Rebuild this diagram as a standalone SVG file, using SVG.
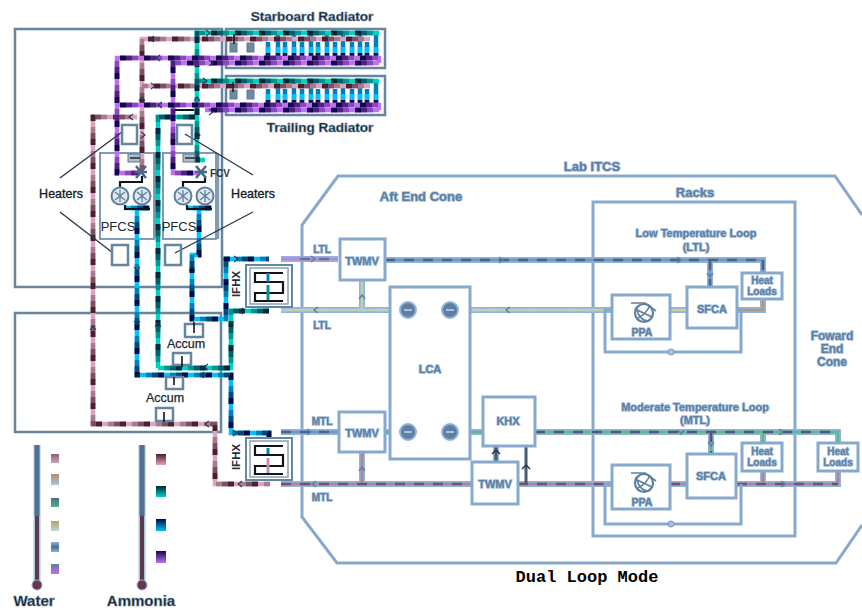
<svg xmlns="http://www.w3.org/2000/svg" width="862" height="611" viewBox="0 0 862 611">
<style>
text{font-family:"Liberation Sans",Arial,sans-serif;text-anchor:middle}
.dk{fill:#101820;font-weight:700;stroke:#6f8ca8;stroke-width:.6px}
.bl{fill:#5f7fa0;font-weight:700;stroke:#a4c2e2;stroke-width:1.4px;paint-order:stroke}
.fr{fill:none;stroke:#66859f;stroke-width:2.5}
.wf{fill:#fff;stroke:#86a9cc;stroke-width:3}
.wl{fill:none;stroke:#86a9cc;stroke-width:3}
.pipe{fill:none;stroke-width:4.5}
.d2{stroke-dasharray:18 6;stroke-dashoffset:-6}
.d3{stroke-dasharray:12 12;stroke-dashoffset:-12}
.d4{stroke-dasharray:6 18;stroke-dashoffset:-18}
.pk .d1{stroke:#dda3c2}.pk .d2{stroke:#a87a90}.pk .d3{stroke:#7a5062}.pk .d4{stroke:#4a2030}
.te .d1{stroke:#00d2c2}.te .d2{stroke:#009492}.te .d3{stroke:#005f68}.te .d4{stroke:#002838}
.cy .d1{stroke:#00c0ff}.cy .d2{stroke:#0080b8}.cy .d3{stroke:#004a7c}.cy .d4{stroke:#000c40}
.pu .d1{stroke:#c070f0}.pu .d2{stroke:#8848c0}.pu .d3{stroke:#502080}.pu .d4{stroke:#120850}
.hal{fill:none;stroke:#8fb4dc;stroke-width:6}
.wp{fill:none;stroke-width:2.6;stroke-dasharray:10 9}
.ar{fill:none;stroke:#24384c;stroke-width:1.1}
.arw{fill:none;stroke:#5f7fa0;stroke-width:1.4}
.blk{fill:none;stroke:#10141c;stroke-width:2.2}
.ld{fill:none;stroke:#2a3a4c;stroke-width:1.4}
.pump{fill:#dfe8f0;stroke:#5f7f9a;stroke-width:2}
.circ{fill:#5f7fa0;stroke:#8fb4dc;stroke-width:2}
</style>
<defs>
<path id="ar" d="M-2-3 2 0-2 3"/>
<path id="pkp" d="M196 39H142V170M370 39H196M370 86H142M137 117H93V424H215V484H270"/>
<path id="tep" d="M379 33H197V160H205M379 81H197M158 368V117H195M158 368H231V311H269"/>
<path id="cyp" d="M137 210V375H231V433H269V437M125 208H150M187 208H212M199 208V255H192V319H226V259H269"/>
<path id="finb" d="M268 42V57M278 35V57M285 42V57M294 35V57M302 42V57M311 35V57M318 42V57M327 35V57M335 42V57M343 35V57M352 42V57M360 35V57M367 42V57M376 35V57M268 89V104M278 82V104M285 89V104M294 82V104M302 89V104M311 82V104M318 89V104M327 82V104M335 89V104M343 82V104M352 89V104M360 82V104M367 89V104M376 82V104"/>
<path id="finc" d="M268 47V53M278 47V53M285 47V53M294 47V53M302 47V53M311 47V53M318 47V53M327 47V53M335 47V53M343 47V53M352 47V53M360 47V53M367 47V53M376 47V53M268 94V100M278 94V100M285 94V100M294 94V100M302 94V100M311 94V100M318 94V100M327 94V100M335 94V100M343 94V100M352 94V100M360 94V100M367 94V100M376 94V100"/>
<path id="find" d="M268 53V57M278 53V57M285 53V57M294 53V57M302 53V57M311 53V57M318 53V57M327 53V57M335 53V57M343 53V57M352 53V57M360 53V57M367 53V57M376 53V57M268 100V104M278 100V104M285 100V104M294 100V104M302 100V104M311 100V104M318 100V104M327 100V104M335 100V104M343 100V104M352 100V104M360 100V104M367 100V104M376 100V104"/>
<path id="pup" d="M379 63H173V173H198M379 63V58H117V173H140M379 110H205M379 110V105H117"/>
<linearGradient id="gw1" x2="0" y2="1"><stop offset="0" stop-color="#8a5f75"/><stop offset="1" stop-color="#c9a5bb"/></linearGradient>
<linearGradient id="gw2" x2="0" y2="1"><stop offset="0" stop-color="#b09070"/><stop offset="1" stop-color="#a8c4dc"/></linearGradient>
<linearGradient id="gw3" x2="0" y2="1"><stop offset="0" stop-color="#50688a"/><stop offset="1" stop-color="#50b080"/></linearGradient>
<linearGradient id="gw4" x2="0" y2="1"><stop offset="0" stop-color="#b8a070"/><stop offset="1" stop-color="#bcd8d0"/></linearGradient>
<linearGradient id="gw5" x2="0" y2="1"><stop offset="0" stop-color="#88b4dc"/><stop offset=".5" stop-color="#4f6a98"/><stop offset="1" stop-color="#88b4dc"/></linearGradient>
<linearGradient id="gw6" x2="0" y2="1"><stop offset="0" stop-color="#5f8090"/><stop offset="1" stop-color="#c070f0"/></linearGradient>
<linearGradient id="ga1" x2="0" y2="1"><stop offset="0" stop-color="#4a2030"/><stop offset="1" stop-color="#dda3c2"/></linearGradient>
<linearGradient id="ga2" x2="0" y2="1"><stop offset="0" stop-color="#002838"/><stop offset="1" stop-color="#00d2c2"/></linearGradient>
<linearGradient id="ga3" x2="0" y2="1"><stop offset="0" stop-color="#000c40"/><stop offset="1" stop-color="#00c0ff"/></linearGradient>
<linearGradient id="ga4" x2="0" y2="1"><stop offset="0" stop-color="#120850"/><stop offset="1" stop-color="#c070f0"/></linearGradient>
<g id="pmp"><circle r="8.5" class="pump"/><path d="M-5-4 5 4M-5 4 5-4M0-6V6" fill="none" stroke="#5f7f9a" stroke-width="1.3"/></g>
<path id="vlv" d="M-5-6 5 6M-5 6 5-6M-6 0H6" fill="none" stroke="#4c6a88" stroke-width="2.6"/>
<g id="ppa"><circle r="9" fill="none" stroke="#5f7fa0" stroke-width="2.2"/><path d="M-13-10H1L12-2M-8-6C-6 2-2 8 4 8M-6 5C0 2 4-3 6-8M-9-4 8 4" fill="none" stroke="#5f7fa0" stroke-width="1.6"/></g>
</defs>

<g id="frames">
<rect x="15" y="29" width="207" height="258" fill="#fff" class="fr"/>
<rect x="15" y="313" width="206" height="119" fill="#fff" class="fr"/>
</g>
<g id="hull"><path d="M862 215 835 176H338L302 225V517L337 563H836L862 525" fill="none" stroke="#86a9cc" stroke-width="3"/></g>
<g id="racks"><rect x="593" y="202" width="202" height="334" class="wl"/></g>

<g id="starboard-radiator"><rect x="226" y="29" width="159" height="39" fill="#fff" class="fr"/><text x="312" y="21" font-size="13.5" class="dk">Starboard Radiator</text></g>
<g id="trailing-radiator"><rect x="226" y="76" width="159" height="39" fill="#fff" class="fr"/><text x="320" y="132" font-size="13.5" class="dk">Trailing Radiator</text></g>

<g id="pfcs-1"><rect x="100" y="153" width="54" height="86" fill="#fff" stroke="#7f9cb4" stroke-width="2"/><text x="118" y="231" font-size="13" fill="#1c2430">PFCS</text></g>
<g id="pfcs-2"><rect x="163" y="153" width="53" height="86" fill="#fff" stroke="#7f9cb4" stroke-width="2"/><path d="M155 153V239M218 153V239" stroke="#7f9cb4" stroke-width="2.5"/><text x="179" y="231" font-size="13" fill="#1c2430">PFCS</text></g>

<g id="connectors">
<g class="pipe"><use href="#finb" stroke="#0080b8"/><use href="#finc" stroke="#00c0ff"/><use href="#find" stroke="#000c40"/></g>
<g class="pipe pk"><use href="#pkp" class="d1"/><use href="#pkp" class="d2"/><use href="#pkp" class="d3"/><use href="#pkp" class="d4"/></g>
<g class="pipe te"><use href="#tep" class="d1"/><use href="#tep" class="d2"/><use href="#tep" class="d3"/><use href="#tep" class="d4"/></g>
<g class="pipe cy"><use href="#cyp" class="d1"/><use href="#cyp" class="d2"/><use href="#cyp" class="d3"/><use href="#cyp" class="d4"/></g>
<g class="pipe pu"><use href="#pup" class="d1"/><use href="#pup" class="d2"/><use href="#pup" class="d3"/><use href="#pup" class="d4"/></g>
<path class="blk" d="M120 187V182H142V176M125 205V209H150M183 187V182H205V176M187 205V209H212M175 110H194"/>
<path class="ld" d="M60 178 122 132M60 212 113 253M253 175 185 134M253 212 175 253"/>

<path class="hal" d="M281 259H338M385 260H763V272M710 260V287M281 432H339M385 432H390M470 432H483M535 432H838V443M711 432V454M763 432V443M281 484H472M518 484H612M670 484H687M737 484H838V471M763 484V471M362 452V484M496 446V462M281 310H390M470 310H612M670 310H687M737 310H763V299M362 280V310"/>
<path class="wp" stroke="#6f96c8" style="stroke-dasharray:none" d="M385 260H763V272M710 260V287M281 432H339"/>
<path class="wp" stroke="#4f6282" d="M385 260H763M710 260V287M763 260V272M281 432H339"/>
<path class="wp" stroke="#c080e0" style="stroke-dasharray:none" d="M281 259H338"/>
<path class="wp" stroke="#7a6a9a" d="M300 259H338"/>
<path class="wp" stroke="#c8d0a0" style="stroke-dasharray:none" d="M281 310H390M470 310H612M670 310H687M362 280V310"/>
<path class="wp" stroke="#b8d0c8" d="M281 310H390M470 310H612"/>
<path class="wp" stroke="#b09878" style="stroke-dasharray:none" d="M737 310H763V299"/>
<path class="wp" stroke="#5fb88a" style="stroke-dasharray:none" d="M385 432H390M470 432H483M535 432H838V443M711 432V454M763 432V443"/>
<path class="wp" stroke="#505878" d="M535 432H838M711 432V454"/>
<path class="wp" stroke="#b0809c" style="stroke-dasharray:none" d="M281 484H472M518 484H612M670 484H687M737 484H838V471M763 484V471M362 452V484"/>
<path class="wp" stroke="#7a5068" d="M281 484H472M518 484H612M670 484H687M737 484H838"/>
<path fill="none" stroke="#475a70" stroke-width="3" d="M496 446V462M526 446V484"/>
<path class="wl" d="M612 310H605V352H741V310M612 484H605V524H741V484"/>
<g class="ar">
<use href="#ar" transform="translate(152 39) rotate(180)"/><use href="#ar" transform="translate(153 86)"/><use href="#ar" transform="translate(158 58) rotate(180)"/><use href="#ar" transform="translate(160 105) rotate(180)"/>
<use href="#ar" transform="translate(208 33)"/><use href="#ar" transform="translate(205 81)"/><use href="#ar" transform="translate(211 63)"/><use href="#ar" transform="translate(211 112)"/>
<use href="#ar" transform="translate(197 99) rotate(-90)"/><use href="#ar" transform="translate(142 99) rotate(-90)"/><use href="#ar" transform="translate(131 117) rotate(180)"/><use href="#ar" transform="translate(143 135)"/><use href="#ar" transform="translate(198 135)"/>
<use href="#ar" transform="translate(137 269) rotate(90)"/><use href="#ar" transform="translate(192 269) rotate(-90)"/><use href="#ar" transform="translate(137 323) rotate(90)"/><use href="#ar" transform="translate(158 325) rotate(-90)"/><use href="#ar" transform="translate(93 328) rotate(-90)"/>
<use href="#ar" transform="translate(206 367) rotate(180)"/><use href="#ar" transform="translate(202 375) rotate(180)"/><use href="#ar" transform="translate(207 424) rotate(180)"/><use href="#ar" transform="translate(240 484) rotate(180)"/><use href="#ar" transform="translate(235 433)"/><use href="#ar" transform="translate(236 259)"/><use href="#ar" transform="translate(241 311) rotate(180)"/>
</g>
<g class="arw">
<use href="#ar" transform="translate(313 259)"/><use href="#ar" transform="translate(501 260)"/><use href="#ar" transform="translate(679 260)"/><use href="#ar" transform="translate(710 275) rotate(90)"/>
<use href="#ar" transform="translate(316 310) rotate(180)"/><use href="#ar" transform="translate(508 310) rotate(180)"/><use href="#ar" transform="translate(362 297) rotate(-90)"/>
<use href="#ar" transform="translate(309 432)"/><use href="#ar" transform="translate(781 432)"/><use href="#ar" transform="translate(681 432) rotate(90)"/><use href="#ar" transform="translate(711 444) rotate(90)"/>
<use href="#ar" transform="translate(314 484) rotate(180)"/><use href="#ar" transform="translate(362 469) rotate(-90)"/><use href="#ar" transform="translate(783 484)"/>
</g>
<circle cx="671" cy="352" r="3" fill="#a4c2e2" stroke="#6f96c8"/><circle cx="671" cy="524" r="3" fill="#a4c2e2" stroke="#6f96c8"/>
<path fill="none" stroke="#24384c" stroke-width="1.5" d="M496 450 492 454M496 450 500 454M526 465 522 469M526 465 530 469"/>
</g>

<g id="radiator-valves"><g fill="#6f8aa2" stroke="#5f7890"><rect x="230" y="43" width="7" height="9"/><rect x="247" y="43" width="7" height="9"/><rect x="230" y="90" width="7" height="9"/><rect x="247" y="90" width="7" height="9"/></g><path d="M234 34V44M233 82V92" stroke="#10141c" stroke-width="1.5"/></g>

<g id="heater-1"><rect x="122" y="125" width="15" height="19" fill="none" class="fr"/></g>
<g id="heater-2"><rect x="177" y="125" width="15" height="19" fill="none" class="fr"/></g>
<g id="heater-3"><rect x="112" y="245" width="16" height="20" fill="none" class="fr"/></g>
<g id="heater-4"><rect x="165" y="245" width="16" height="20" fill="none" class="fr"/></g>
<g id="s-1"><rect x="128" y="154" width="12" height="8" fill="#aebccb" stroke="#5f7890"/><path d="M130 158H140" stroke="#202c3a" stroke-width="1.5"/></g>
<g id="s-2"><rect x="183" y="154" width="12" height="8" fill="#aebccb" stroke="#5f7890"/><path d="M185 158H195" stroke="#202c3a" stroke-width="1.5"/></g>
<g id="fcv-1"><use href="#vlv" x="141" y="172"/></g>
<g id="fcv-2"><use href="#vlv" x="201" y="172"/><text x="220" y="177" font-size="10" fill="#2a3644" font-weight="700">FCV</text></g>
<g id="pumps"><use href="#pmp" x="120" y="196"/><use href="#pmp" x="142" y="196"/><use href="#pmp" x="183" y="196"/><use href="#pmp" x="205" y="196"/></g>
<g id="heaters-left"><text x="61" y="198" font-size="12.5" fill="#10141c" stroke="#10141c" stroke-width=".3">Heaters</text></g>
<g id="heaters-right"><text x="253" y="198" font-size="12.5" fill="#10141c" stroke="#10141c" stroke-width=".3">Heaters</text></g>

<g id="accum-1"><rect x="185" y="324" width="18" height="13" fill="#fff" class="fr"/><rect x="173" y="353" width="18" height="12" fill="#fff" class="fr"/><path d="M194 322V333M182 356V367" stroke="#10141c" stroke-width="1.6"/><text x="186" y="348" font-size="12.5" fill="#1c2430" stroke="#1c2430" stroke-width=".25">Accum</text></g>
<g id="accum-2"><rect x="166" y="377" width="17" height="12" fill="#fff" class="fr"/><rect x="156" y="408" width="17" height="13" fill="#fff" class="fr"/><path d="M174 377V385M164 412V422" stroke="#10141c" stroke-width="1.6"/><text x="165" y="402" font-size="12.5" fill="#1c2430" stroke="#1c2430" stroke-width=".25">Accum</text></g>

<g id="ifhx-1"><rect x="246" y="265" width="46" height="42" fill="#fff" stroke="#66859f" stroke-width="2"/><rect x="250" y="268" width="38" height="36" fill="none" stroke="#86a0b8" stroke-width="1.5"/><path class="blk" d="M283 273H255V282H283V293H255V301H283"/><path d="M268 273V282" stroke="#0080b8" stroke-width="3"/><path d="M268 285V300" stroke="#009492" stroke-width="3"/><text transform="translate(240 284) rotate(-90)" font-size="11.5" font-weight="700" fill="#243040">IFHX</text></g>
<g id="ifhx-2"><rect x="246" y="438" width="46" height="42" fill="#fff" stroke="#66859f" stroke-width="2"/><rect x="250" y="441" width="38" height="36" fill="none" stroke="#86a0b8" stroke-width="1.5"/><path class="blk" d="M283 446H255V455H283V466H255V474H283"/><path d="M268 448V454" stroke="#0080b8" stroke-width="3"/><path d="M268 458V473" stroke="#c090ac" stroke-width="3"/><text transform="translate(240 457) rotate(-90)" font-size="11.5" font-weight="700" fill="#243040">IFHX</text></g>

<g id="twmv-ltl"><rect x="340" y="239" width="45" height="41" class="wf"/><text x="362" y="265" font-size="11" class="bl">TWMV</text></g>
<g id="twmv-mtl"><rect x="339" y="412" width="46" height="40" class="wf"/><text x="362" y="437" font-size="11" class="bl">TWMV</text></g>
<g id="twmv-3"><rect x="472" y="462" width="46" height="42" class="wf"/><text x="495" y="488" font-size="11" class="bl">TWMV</text></g>
<g id="lca"><rect x="390" y="287" width="80" height="172" class="wf"/><circle cx="408" cy="310" r="8" class="circ"/><circle cx="450" cy="310" r="8" class="circ"/><circle cx="408" cy="432" r="8" class="circ"/><circle cx="450" cy="432" r="8" class="circ"/><path d="M404 310H412M446 310H454M404 432H412M446 432H454" stroke="#c8d8e8" stroke-width="1.5"/><text x="430" y="373" font-size="11" class="bl">LCA</text></g>
<g id="khx"><rect x="483" y="397" width="52" height="49" class="wf"/><text x="508" y="425" font-size="11" class="bl">KHX</text></g>
<g id="ppa-1"><rect x="612" y="295" width="58" height="44" class="wf"/><use href="#ppa" x="644" y="313"/><text x="642" y="336" font-size="10.5" class="bl">PPA</text></g>
<g id="ppa-2"><rect x="612" y="465" width="58" height="44" class="wf"/><use href="#ppa" x="644" y="483"/><text x="642" y="506" font-size="10.5" class="bl">PPA</text></g>
<g id="sfca-1"><rect x="687" y="287" width="50" height="41" class="wf"/><text x="712" y="313" font-size="11" class="bl">SFCA</text></g>
<g id="sfca-2"><rect x="687" y="454" width="49" height="44" class="wf"/><text x="711" y="480" font-size="11" class="bl">SFCA</text></g>
<g id="heat-loads-1"><rect x="742" y="273" width="40" height="26" class="wf"/><text x="762" y="284" font-size="10" class="bl">Heat</text><text x="762" y="295" font-size="10" class="bl">Loads</text></g>
<g id="heat-loads-2"><rect x="742" y="443" width="40" height="28" class="wf"/><text x="762" y="455" font-size="10" class="bl">Heat</text><text x="762" y="466" font-size="10" class="bl">Loads</text></g>
<g id="heat-loads-3"><rect x="818" y="443" width="40" height="28" class="wf"/><text x="838" y="455" font-size="10" class="bl">Heat</text><text x="838" y="466" font-size="10" class="bl">Loads</text></g>

<g id="labels">
<text x="592" y="171" font-size="13" class="bl">Lab ITCS</text>
<text x="421" y="201" font-size="13" class="bl">Aft End Cone</text>
<text x="695" y="197" font-size="13" class="bl">Racks</text>
<text x="696" y="237" font-size="11" class="bl">Low Temperature Loop</text>
<text x="696" y="251" font-size="11" class="bl">(LTL)</text>
<text x="695" y="411" font-size="11" class="bl">Moderate Temperature Loop</text>
<text x="695" y="424" font-size="11" class="bl">(MTL)</text>
<text x="832" y="340" font-size="12" class="bl">Foward</text>
<text x="832" y="353" font-size="12" class="bl">End</text>
<text x="832" y="366" font-size="12" class="bl">Cone</text>
<text x="322" y="253" font-size="10" class="bl">LTL</text>
<text x="322" y="329" font-size="10" class="bl">LTL</text>
<text x="322" y="425" font-size="10" class="bl">MTL</text>
<text x="322" y="501" font-size="10" class="bl">MTL</text>
<text x="587" y="582" font-size="17" font-weight="700" style="font-family:'Liberation Mono',monospace" fill="#000">Dual Loop Mode</text>
</g>

<g id="legend">
<path d="M37 445V585M142 445V585" stroke="#a8c4dc" stroke-width="7" fill="none"/>
<path d="M37 445V516M142 445V516" stroke="#4f7090" stroke-width="5" fill="none"/>
<path d="M37 516V585M142 516V585" stroke="#5a3a50" stroke-width="4" fill="none"/>
<circle cx="37" cy="585" r="5" fill="#6a3548" stroke="#8fb4dc"/><circle cx="142" cy="585" r="5" fill="#6a3548" stroke="#8fb4dc"/>
<rect x="51" y="454" width="8" height="9" fill="url(#gw1)"/><rect x="51" y="474" width="8" height="11" fill="url(#gw2)"/><rect x="51" y="498" width="8" height="9" fill="url(#gw3)"/><rect x="51" y="521" width="8" height="10" fill="url(#gw4)"/><rect x="51" y="542" width="8" height="10" fill="url(#gw5)"/><rect x="51" y="564" width="8" height="10" fill="url(#gw6)"/>
<rect x="156" y="454" width="10" height="11" fill="url(#ga1)"/><rect x="156" y="486" width="10" height="11" fill="url(#ga2)"/><rect x="156" y="519" width="10" height="12" fill="url(#ga3)"/><rect x="156" y="551" width="10" height="12" fill="url(#ga4)"/>
<text x="34" y="606" font-size="15" class="dk">Water</text>
<text x="141" y="606" font-size="15" class="dk">Ammonia</text>
</g>
</svg>
